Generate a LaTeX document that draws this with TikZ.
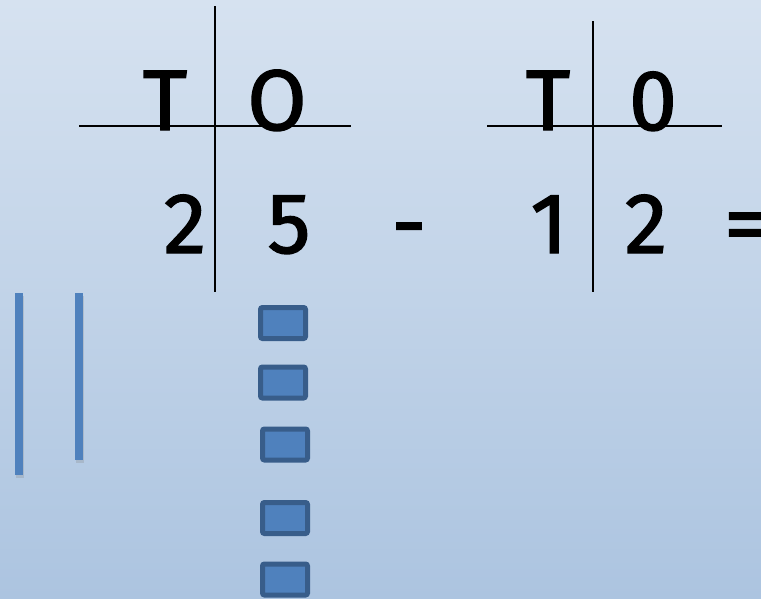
\documentclass[tikz,border=0pt]{standalone}
\usepackage{fontspec}
\setmainfont{Fira Sans}
\newfontfamily\digitfont{Fira Sans}[FakeBold=1.6]
\usetikzlibrary{shadows}
\definecolor{bgtop}{RGB}{214,226,240}
\definecolor{bgbottom}{RGB}{172,196,224}
\definecolor{blockblue}{RGB}{79,129,189}
\definecolor{blockedge}{RGB}{56,93,138}

\begin{document}
\begin{tikzpicture}[
    x=1pt, y=-1pt,
    digit/.style={font=\digitfont\fontsize{86}{90}\selectfont, anchor=base, inner sep=0pt},
    rule/.style={line width=1.6pt, black},
    tenbar/.style={fill=blockblue, minimum width=8pt, inner sep=0pt,
        drop shadow={shadow xshift=1pt, shadow yshift=-3pt, opacity=0.25}},
    unitbox/.style={draw=blockedge, fill=blockblue, line width=5pt, rounded corners=2pt,
        minimum width=45pt, minimum height=31pt, inner sep=0pt}
]
% background
\fill[top color=bgtop, bottom color=bgbottom] (0,0) rectangle (761,598);
\useasboundingbox (0,0) rectangle (761,598);

% first place-value chart
\coordinate (la) at (215,6);
\coordinate (lb) at (215,292);
\coordinate (lc) at (79,126);
\coordinate (ld) at (351,126);
\draw[rule] (la) -- (lb);
\draw[rule] (lc) -- (ld);
\node[digit] (lt) at (165,130) {T};
\node[digit] (lo) at (277,130) {O};
\node[digit] (ltens) at (185,253) {2};
\node[digit] (lones) at (289,253) {5};

\node[digit] (minus) at (409,253) {-};

% second place-value chart
\coordinate (ra) at (593,21);
\coordinate (rb) at (593,292);
\coordinate (rc) at (487,126);
\coordinate (rd) at (722,126);
\draw[rule] (ra) -- (rb);
\draw[rule] (rc) -- (rd);
\node[digit] (rt) at (548,130) {T};
\node[digit] (ro) at (653,130) {0};
\node[digit] (rtens) at (549,253) {1};
\node[digit] (rones) at (646,253) {2};

\node[digit, anchor=base west] (equals) at (724,253) {=};

% tens and ones
\node[tenbar, minimum height=182pt] (ten1) at (19,384) {};
\node[tenbar, minimum height=167pt] (ten2) at (79,376.5) {};
\node[unitbox] (one1) at (283,323) {};
\node[unitbox] (one2) at (283,382.5) {};
\node[unitbox] (one3) at (285,444.5) {};
\node[unitbox] (one4) at (285,518) {};
\node[unitbox] (one5) at (285,579.5) {};
\end{tikzpicture}
\end{document}
